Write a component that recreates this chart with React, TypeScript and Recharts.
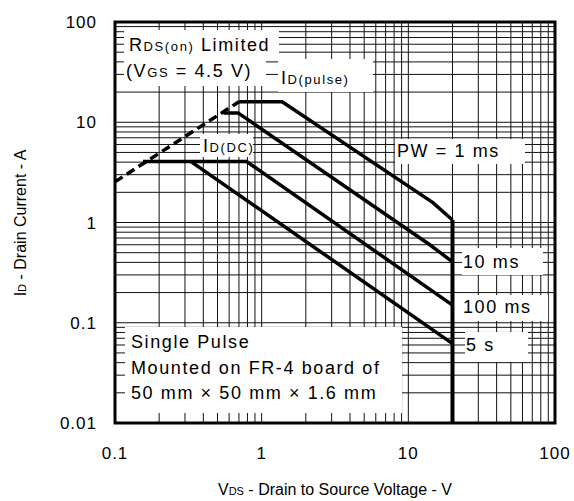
import React from 'react';
import { LineChart, Line, XAxis, YAxis, CartesianGrid, ReferenceArea, Customized } from 'recharts';

// log grid lines (labels only on the decades)
const xTicks = [0.1, 0.2, 0.3, 0.4, 0.5, 0.6, 0.7, 0.8, 0.9, 1, 2, 3, 4, 5, 6, 7, 8, 9, 10, 20, 30, 40, 50, 60, 70, 80, 90, 100];
const yTicks = [
    0.01, 0.02, 0.03, 0.04, 0.05, 0.06, 0.07, 0.08, 0.09,
    0.1, 0.2, 0.3, 0.4, 0.5, 0.6, 0.7, 0.8, 0.9,
    1, 2, 3, 4, 5, 6, 7, 8, 9,
    10, 20, 30, 40, 50, 60, 70, 80, 90, 100
];
const xDecades = [0.1, 1, 10, 100];
const yDecades = [0.01, 0.1, 1, 10, 100];

// VDS (V) / ID (A) points
const rdsV = [0.1, 0.7];
const rdsI = [2.55, 16];
const pw1msV = [0.7, 1.38, 14.7, 20];
const pw1msI = [16, 16, 1.58, 1.06];
const pw10msV = [0.55, 0.69, 14, 20];
const pw10msI = [12.4, 12.4, 0.6, 0.405];
const pw100msV = [0.155, 0.79, 20];
const pw100msI = [4.05, 4.05, 0.15];
const pw5sV = [0.33, 20];
const pw5sI = [4.05, 0.062];
const vdssV = [20, 20];
const vdssI = [1.06, 0.01];

const zip = (v: number[], i: number[]) => v.map((x, k) => ({ v: x, i: i[k] }));

const FONT = '"Liberation Sans", Arial, sans-serif';
const SUB = 13;

const Sub = ({ children }: { children: React.ReactNode }) => <tspan fontSize={SUB}>{children}</tspan>;

// white label boxes that blank out the grid behind the notes
const Notes = () => {
    const t = { fontFamily: FONT, fontSize: 18, letterSpacing: 1.6, fill: '#000', stroke: 'none' };
    return (
        <g>
            <rect x={124} y={30} width={155} height={28} fill="#fff" />
            <rect x={124} y={57} width={142} height={29} fill="#fff" />
            <rect x={278} y={59} width={95} height={33} fill="#fff" />
            <rect x={200} y={134} width={53} height={23} fill="#fff" />
            <rect x={395} y={139} width={130} height={25} fill="#fff" />
            <rect x={462} y={248} width={81} height={27} fill="#fff" />
            <rect x={462} y={295} width={86} height={26} fill="#fff" />
            <rect x={465} y={332} width={63} height={30} fill="#fff" />
            <rect x={125} y={327} width={277} height={86} fill="#fff" />

            <text x={129} y={51} {...t}>R<Sub>DS(on)</Sub> Limited</text>
            <text x={126} y={77} {...t}>(V<Sub>GS</Sub> = 4.5 V)</text>
            <text x={281} y={84} {...t}>I<Sub>D(pulse)</Sub></text>
            <text x={203} y={152} {...t}>I<Sub>D(DC)</Sub></text>
            <text x={397} y={157} {...t}>PW = 1 ms</text>
            <text x={463} y={268} {...t}>10 ms</text>
            <text x={463} y={313} {...t}>100 ms</text>
            <text x={466} y={351} {...t}>5 s</text>
            <text x={131} y={348} {...t}>Single Pulse</text>
            <text x={131} y={374} {...t}>Mounted on FR-4 board of</text>
            <text x={131} y={399} {...t}>50 mm × 50 mm × 1.6 mm</text>
        </g>
    );
};

const AxisTitles = () => {
    const t = { fontFamily: FONT, fontSize: 16, fill: '#000', stroke: 'none', textAnchor: 'middle' as const };
    return (
        <g>
            <text x={335} y={495} {...t}>V<tspan fontSize={11}>DS</tspan> - Drain to Source Voltage - V</text>
            <text x={26} y={223} transform="rotate(-90 26 223)" {...t}>I<tspan fontSize={11}>D</tspan> - Drain Current - A</text>
        </g>
    );
};

const tickText = { fontFamily: FONT, fontSize: 17, letterSpacing: 1, fill: '#000', stroke: 'none' };

const XTick = (p: any) =>
    xDecades.includes(p.payload.value) ? (
        <text x={p.x} y={p.y} dy="0.71em" textAnchor="middle" {...tickText}>{String(p.payload.value)}</text>
    ) : <g />;

const YTick = (p: any) =>
    yDecades.includes(p.payload.value) ? (
        <text x={p.x} y={p.y} dy="0.355em" textAnchor="end" {...tickText}>{String(p.payload.value)}</text>
    ) : <g />;

const lineStyle = { stroke: '#000', strokeWidth: 3.5, dot: false, isAnimationActive: false, type: 'linear' as const };

export default function App() {
    return (
        <div style={{ position: 'absolute', left: 0, top: 0, width: 574, height: 501, background: '#fff' }}>
            <LineChart width={574} height={501} margin={{ top: 22, right: 19, bottom: 48, left: 0 }}>
                <CartesianGrid stroke="#111" strokeWidth={1} />
                <XAxis
                    dataKey="v"
                    type="number"
                    scale="log"
                    domain={[0.1, 100]}
                    ticks={xTicks}
                    allowDataOverflow
                    interval={0}
                    height={30}
                    tickLine={false}
                    axisLine={false}
                    tickSize={6}
                    tickMargin={18}
                    tick={XTick}
                />
                <YAxis
                    type="number"
                    scale="log"
                    domain={[0.01, 100]}
                    ticks={yTicks}
                    allowDataOverflow
                    interval={0}
                    width={115}
                    tickLine={false}
                    axisLine={false}
                    tickSize={6}
                    tickMargin={12}
                    tick={YTick}
                />
                <Customized component={Notes} />
                <Line data={zip(rdsV, rdsI)} dataKey="i" {...lineStyle} strokeDasharray="9 5" />
                <Line data={zip(pw1msV, pw1msI)} dataKey="i" {...lineStyle} />
                <Line data={zip(pw10msV, pw10msI)} dataKey="i" {...lineStyle} />
                <Line data={zip(pw100msV, pw100msI)} dataKey="i" {...lineStyle} />
                <Line data={zip(pw5sV, pw5sI)} dataKey="i" {...lineStyle} />
                <Line data={zip(vdssV, vdssI)} dataKey="i" {...lineStyle} strokeWidth={4} />
                <ReferenceArea x1={0.1} x2={100} y1={0.01} y2={100} fill="none" stroke="#000" strokeWidth={3} ifOverflow="visible" />
                <Customized component={AxisTitles} />
            </LineChart>
        </div>
    );
}
